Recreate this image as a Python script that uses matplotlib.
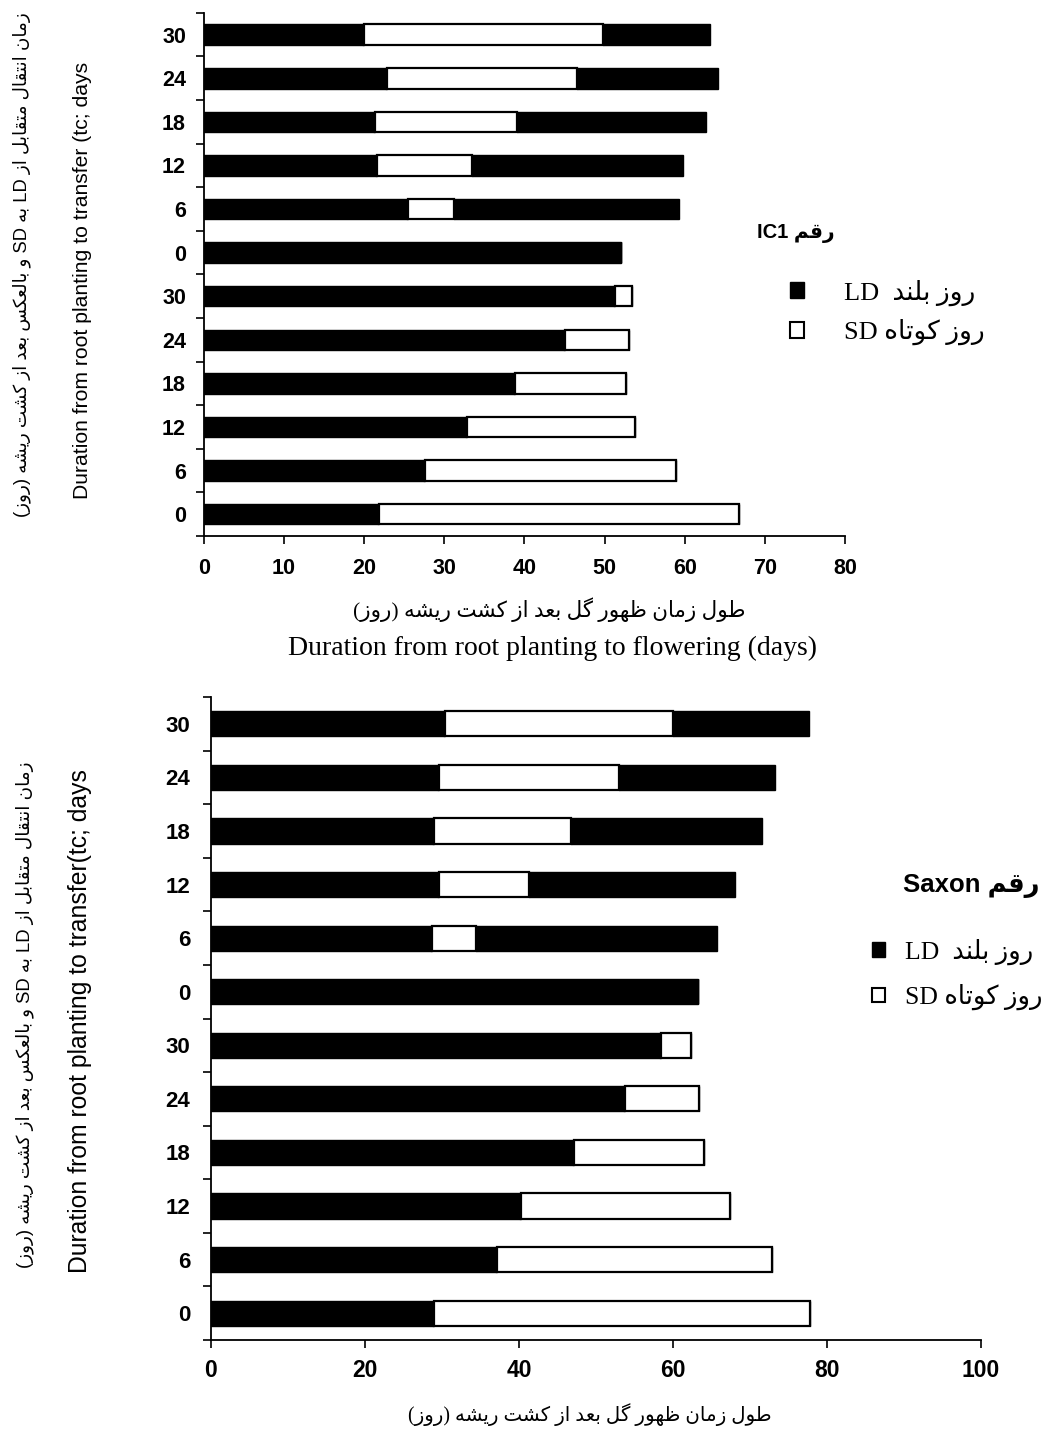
import re
import matplotlib
matplotlib.use('Agg')
import matplotlib.pyplot as plt
from matplotlib.patches import Patch
from matplotlib.font_manager import FontProperties

# tick labels, top row first (same for both panels)
row_labels = ['30', '24', '18', '12', '6', '0', '30', '24', '18', '12', '6', '0']

# IC1: end of first LD period, end of SD period, total days to flowering
ic1_first = [20.0, 22.8, 21.4, 21.6, 25.4, 52.1, 51.3, 45.1, 38.8, 32.8, 27.6, 21.8]
ic1_second = [49.8, 46.5, 39.1, 33.5, 31.2, 52.1, 53.4, 53.0, 52.7, 53.8, 58.9, 66.8]
ic1_total = [63.2, 64.2, 62.7, 59.8, 59.3, 52.1, 53.4, 53.0, 52.7, 53.8, 58.9, 66.8]

# Saxon
sax_first = [30.4, 29.6, 29.0, 29.6, 28.7, 63.2, 58.5, 53.7, 47.2, 40.3, 37.1, 28.9]
sax_second = [60.0, 53.0, 46.8, 41.3, 34.4, 63.2, 62.3, 63.4, 64.0, 67.4, 72.9, 77.8]
sax_total = [77.6, 73.3, 71.6, 68.1, 65.7, 63.2, 62.3, 63.4, 64.0, 67.4, 72.9, 77.8]

# --- tiny persian shaper (matplotlib has no arabic shaping / bidi) ---
FORMS = {
    'ا': ('\uFE8D', '\uFE8E'),
    'د': ('\uFEA9', '\uFEAA'),
    'ر': ('\uFEAD', '\uFEAE'),
    'ز': ('\uFEAF', '\uFEB0'),
    'و': ('\uFEED', '\uFEEE'),
    'ب': ('\uFE8F', '\uFE90', '\uFE91', '\uFE92'),
    'ت': ('\uFE95', '\uFE96', '\uFE97', '\uFE98'),
    'س': ('\uFEB1', '\uFEB2', '\uFEB3', '\uFEB4'),
    'ش': ('\uFEB5', '\uFEB6', '\uFEB7', '\uFEB8'),
    'ط': ('\uFEC1', '\uFEC2', '\uFEC3', '\uFEC4'),
    'ظ': ('\uFEC5', '\uFEC6', '\uFEC7', '\uFEC8'),
    'ع': ('\uFEC9', '\uFECA', '\uFECB', '\uFECC'),
    'ق': ('\uFED5', '\uFED6', '\uFED7', '\uFED8'),
    'ل': ('\uFEDD', '\uFEDE', '\uFEDF', '\uFEE0'),
    'م': ('\uFEE1', '\uFEE2', '\uFEE3', '\uFEE4'),
    'ن': ('\uFEE5', '\uFEE6', '\uFEE7', '\uFEE8'),
    'ه': ('\uFEE9', '\uFEEA', '\uFEEB', '\uFEEC'),
    'ک': ('\uFB8E', '\uFB8F', '\uFB90', '\uFB91'),
    'گ': ('\uFB92', '\uFB93', '\uFB94', '\uFB95'),
    'ی': ('\uFBFC', '\uFBFD', '\uFBFE', '\uFBFF'),
}
MIRROR = {'(': ')', ')': '('}


def shape(s):
    out = []
    for i, ch in enumerate(s):
        f = FORMS.get(ch)
        if f is None:
            out.append(ch)
            continue
        prev = s[i - 1] if i > 0 else ''
        nxt = s[i + 1] if i + 1 < len(s) else ''
        jp = prev in FORMS and len(FORMS[prev]) == 4
        jn = len(f) == 4 and nxt in FORMS
        if jp and jn:
            out.append(f[3])
        elif jp:
            out.append(f[1])
        elif jn:
            out.append(f[2])
        else:
            out.append(f[0])
    return ''.join(out)


def fa(s):
    runs = re.findall(r'[A-Za-z0-9]+|[^A-Za-z0-9]+', shape(s))
    vis = []
    for r in reversed(runs):
        if re.match(r'[A-Za-z0-9]', r):
            vis.append(r)
        else:
            vis.append(''.join(MIRROR.get(c, c) for c in reversed(r)))
    return ''.join(vis)


fa_x = 'طول زمان ظهور گل بعد از کشت ریشه (روز)'
fa_y = 'زمان انتقال متقابل از LD به SD و بالعکس بعد از کشت ریشه (روز)'
fa_ld = 'روز بلند  LD'
fa_sd = 'روز کوتاه SD'

SANS = ['Liberation Sans', 'DejaVu Sans']
SERIF = ['Liberation Serif', 'DejaVu Sans']


def draw_panel(ax, first, second, total, xmax, xstep, bar_h=0.47):
    y = range(len(row_labels))
    sd_w = [b - a for a, b in zip(first, second)]
    last_w = [c - b for b, c in zip(second, total)]
    ax.barh(y, first, height=bar_h, color='black', edgecolor='black', lw=1)
    ax.barh(y, sd_w, left=first, height=bar_h, color='white', edgecolor='black', lw=1.6)
    ax.barh(y, last_w, left=second, height=bar_h, color='black', edgecolor='black', lw=1)
    ax.set_xlim(0, xmax)
    ax.set_ylim(len(row_labels) - 0.5, -0.5)
    ax.spines[['top', 'right']].set_visible(False)
    ax.spines[['left', 'bottom']].set_linewidth(1.3)
    ax.set_xticks(range(0, xmax + 1, xstep))
    ax.set_yticks([i - 0.5 for i in range(len(row_labels) + 1)])
    ax.set_yticklabels([])
    ax.set_yticks(list(y), minor=True)
    ax.set_yticklabels(row_labels, minor=True)
    ax.tick_params(axis='y', which='major', direction='out', length=6, width=1.2)
    ax.tick_params(axis='x', direction='out', length=6, width=1.2)
    for lab in ax.get_xticklabels() + ax.get_yticklabels(minor=True):
        lab.set_fontfamily('Liberation Sans')
        lab.set_fontweight('bold')


fig = plt.figure(figsize=(10.45, 14.33), dpi=100)

# ---- top panel (IC1) ----
ax1 = fig.add_axes([0.1952, 0.626, 0.6134, 0.365])
draw_panel(ax1, ic1_first, ic1_second, ic1_total, 80, 10)
ax1.tick_params(axis='x', labelsize=15.5, pad=10)
ax1.tick_params(axis='y', which='minor', length=0, labelsize=15.5, pad=13)

fig.text(0.526, 0.5743, fa(fa_x), ha='center', va='center', fontsize=15.5, family=SERIF)
fig.text(0.529, 0.5475, 'Duration from root planting to flowering (days)',
         ha='center', va='center', fontsize=20, family='Liberation Serif')
fig.text(0.0794, 0.8046, 'Duration from root planting to transfer (tc; days',
         rotation=90, ha='center', va='center', fontsize=15.2, family='Liberation Sans')
fig.text(0.021, 0.815, fa(fa_y), rotation=90, ha='center', va='center',
         fontsize=13.2, family=SANS)

fig.text(0.7244, 0.8374, fa('رقم IC1'), ha='left', va='center', fontsize=14.5,
         fontweight='bold', family=SANS)
handles = [Patch(facecolor='black', edgecolor='black'),
           Patch(facecolor='white', edgecolor='black', lw=1.5)]
leg1 = ax1.legend(handles, [fa(fa_ld), fa(fa_sd)], loc='upper left',
                  bbox_to_anchor=(0.743, 0.814), bbox_transform=fig.transFigure,
                  frameon=False, prop=FontProperties(family=SERIF, size=19),
                  handlelength=0.55, handleheight=0.55, handletextpad=1.5,
                  labelspacing=0.5, borderpad=0)

# ---- bottom panel (Saxon) ----
ax2 = fig.add_axes([0.2019, 0.0649, 0.7369, 0.4487])
draw_panel(ax2, sax_first, sax_second, sax_total, 100, 20)
ax2.tick_params(axis='x', labelsize=16.5, pad=8)
ax2.tick_params(axis='y', which='minor', length=0, labelsize=16, pad=15)

fig.text(0.5646, 0.0126, fa(fa_x), ha='center', va='center', fontsize=14.2, family=SERIF)
fig.text(0.0766, 0.2875, 'Duration from root planting to transfer(tc; days',
         rotation=90, ha='center', va='center', fontsize=17.8, family='Liberation Sans')
fig.text(0.0239, 0.2917, fa(fa_y), rotation=90, ha='center', va='center',
         fontsize=13.3, family=SANS)

fig.text(0.8641, 0.3817, fa('رقم Saxon'), ha='left', va='center', fontsize=18.5,
         fontweight='bold', family=SANS)
leg2 = ax2.legend(handles, [fa(fa_ld), fa(fa_sd)], loc='upper left',
                  bbox_to_anchor=(0.822, 0.354), bbox_transform=fig.transFigure,
                  frameon=False, prop=FontProperties(family=SERIF, size=18.5),
                  handlelength=0.5, handleheight=0.5, handletextpad=0.8,
                  labelspacing=0.75, borderpad=0)

fig.savefig('out.png', dpi=100)
